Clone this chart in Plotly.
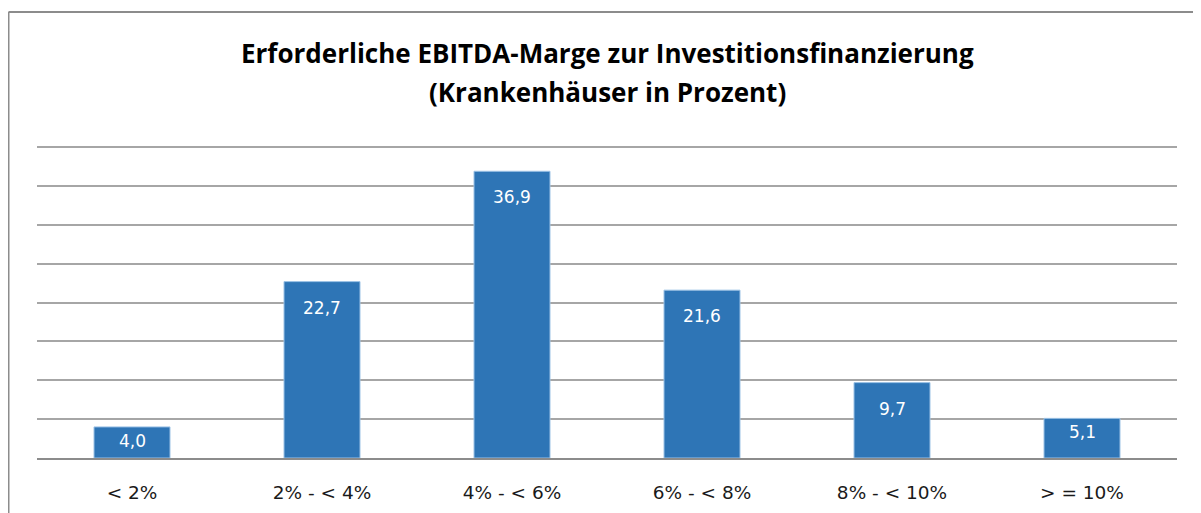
import plotly.graph_objects as go

# Kategorien und Werte (Anteil Krankenhäuser in Prozent)
categories = ["< 2%", "2% - < 4%", "4% - < 6%", "6% - < 8%", "8% - < 10%", "> = 10%"]
values = [4.0, 22.7, 36.9, 21.6, 9.7, 5.1]
labels = ["4,0", "22,7", "36,9", "21,6", "9,7", "5,1"]

title_line1 = "Erforderliche EBITDA-Marge zur Investitionsfinanzierung"
title_line2 = "(Krankenhäuser in Prozent)"

BAR_COLOR = "#2E75B6"
GRID_COLOR = "#A6A6A6"
FRAME_COLOR = "#8C8C8C"
TITLE_FONT = "Open Sans"
LABEL_FONT = "DejaVu Sans"

fig = go.Figure()
fig.add_trace(go.Bar(
    x=categories,
    y=values,
    marker=dict(color=BAR_COLOR, line=dict(color="#9DC3E6", width=1)),
    hoverinfo="skip",
))

# Datenbeschriftungen innen oben (bei kleinen Balken näher am Rand)
for cat, val, lab in zip(categories, values, labels):
    shift = -26 if val > 8 else -14
    fig.add_annotation(
        x=cat, y=val, text=lab, showarrow=False,
        yanchor="middle", yshift=shift,
        font=dict(family=LABEL_FONT, size=17, color="white"),
    )

# Titel in zwei Zeilen, oberhalb der Zeichenfläche
for text, shift in [(title_line1, 93), (title_line2, 54)]:
    fig.add_annotation(
        x=0.5, y=1, xref="paper", yref="paper", yshift=shift, yanchor="middle",
        text=text, showarrow=False,
        font=dict(family=TITLE_FONT, size=26, color="black", weight="bold"),
    )

fig.update_layout(
    width=1201,
    height=513,
    margin=dict(l=29, r=32, t=138, b=63),
    paper_bgcolor="white",
    plot_bgcolor="white",
    showlegend=False,
    bargap=0.6,
    shapes=[
        # Rahmen links und oben
        dict(type="line", xref="paper", yref="paper", x0=-0.025, x1=-0.025,
             y0=-0.4, y1=1.4295, line=dict(color=FRAME_COLOR, width=2)),
        dict(type="line", xref="paper", yref="paper", x0=-0.025, x1=1.1,
             y0=1.4295, y1=1.4295, line=dict(color=FRAME_COLOR, width=2)),
    ],
)

fig.update_xaxes(
    showgrid=False,
    showline=True,
    linecolor=FRAME_COLOR,
    linewidth=2,
    ticks="",
    ticklabelstandoff=17,
    tickfont=dict(family=LABEL_FONT, size=18.5, color="#1a1a1a"),
)
fig.update_yaxes(
    range=[0, 40.15],
    dtick=5,
    showgrid=True,
    gridcolor=GRID_COLOR,
    gridwidth=2,
    showticklabels=False,
    zeroline=False,
)

fig.write_html("out.html")
